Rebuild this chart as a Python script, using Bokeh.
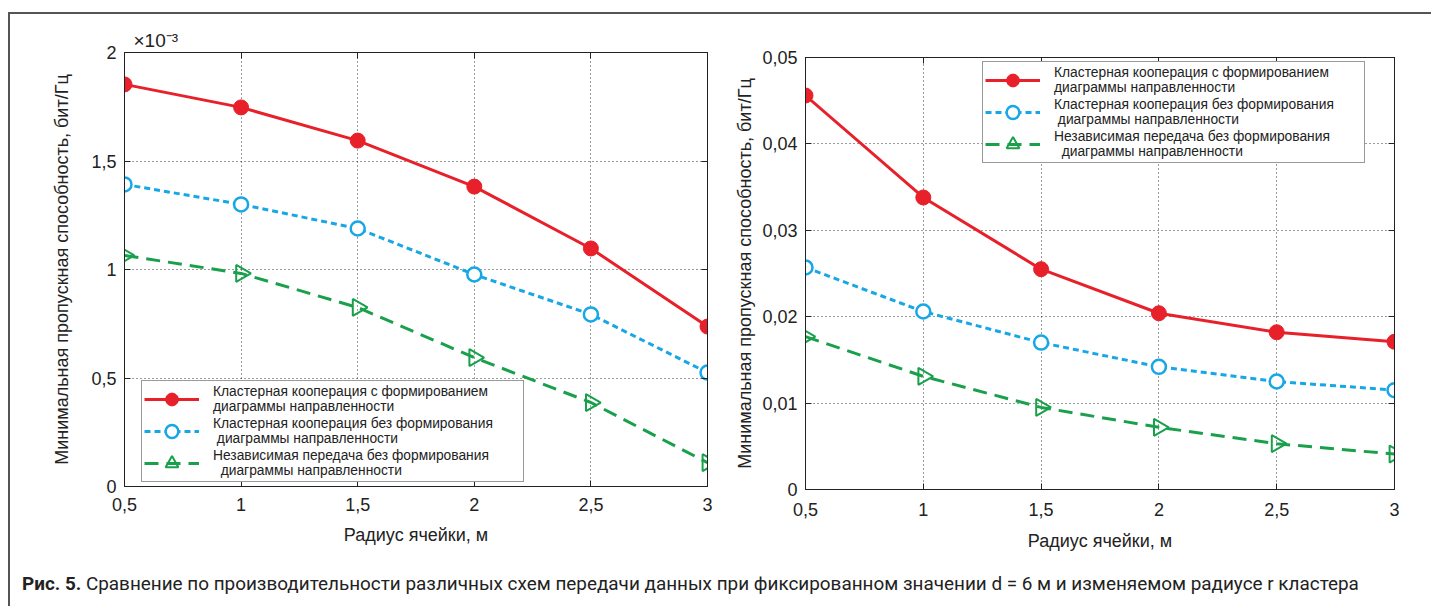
import numpy as np
from bokeh.plotting import figure
from bokeh.models import FixedTicker, LinearAxis, Legend, LegendItem, Div
from bokeh.layouts import row, column
from bokeh.embed import file_html
from bokeh.resources import INLINE

# ---------------- data ----------------
radius = [0.5, 1.0, 1.5, 2.0, 2.5, 3.0]
x_tick_labels = ["0,5", "1", "1,5", "2", "2,5", "3"]

# left panel (values in units of 1e-3)
left_coop_bf = [1.853, 1.747, 1.594, 1.382, 1.097, 0.737]
left_coop_nobf = [1.392, 1.300, 1.189, 0.977, 0.793, 0.525]
left_indep = [1.065, 0.982, 0.825, 0.594, 0.387, 0.110]
left_y_ticks = [0, 0.5, 1, 1.5, 2]
left_y_tick_labels = ["0", "0,5", "1", "1,5", "2"]
left_multiplier = "×10⁻³"

# right panel
right_coop_bf = [0.0456, 0.0338, 0.0255, 0.0204, 0.0182, 0.0171]
right_coop_nobf = [0.0257, 0.0206, 0.0170, 0.0142, 0.0125, 0.0115]
right_indep = [0.0177, 0.0131, 0.0095, 0.0072, 0.0053, 0.0041]
right_y_ticks = [0, 0.01, 0.02, 0.03, 0.04, 0.05]
right_y_tick_labels = ["0", "0,01", "0,02", "0,03", "0,04", "0,05"]

series_names = [
    "Кластерная кооперация с формированием\nдиаграммы направленности",
    "Кластерная кооперация без формирования\n диаграммы направленности",
    "Независимая передача без формирования\n  диаграммы направленности",
]
x_title = "Радиус ячейки, м"
y_title = "Минимальная пропускная способность, бит/Гц"
caption_bold = "Рис. 5."
caption_text = ("Сравнение по производительности различных схем передачи данных "
                "при фиксированном значении d = 6 м и изменяемом радиусе r кластера")

RED = "#e8202a"
BLUE = "#17a7e6"
GREEN = "#19a04b"
FRAME = "#555555"
INK = "#222222"
FONT = "Liberation Sans"
TOP = 14   # height of the top frame strip
H = 550    # figure height
CAP = 606 - TOP - H


def make_panel(width, b_left, b_right, b_top, b_bottom, ymax, yt, ytl, ys,
               legend_loc, xtick_standoff, xlab_standoff, ylab_standoff):
    p = figure(width=width, height=H, output_backend="svg",
               toolbar_location=None, x_range=(0.5, 3.0), y_range=(0, ymax),
               min_border_left=b_left, min_border_right=b_right,
               min_border_top=b_top, min_border_bottom=b_bottom,
               frame_align=False)
    p.outline_line_color = INK
    p.outline_line_width = 1
    p.background_fill_color = "white"
    p.border_fill_color = "white"

    for ax in p.xaxis:
        ax.ticker = FixedTicker(ticks=radius)
        ax.major_label_overrides = {r: l for r, l in zip(radius, x_tick_labels)}
        ax.axis_label = x_title
        ax.axis_label_standoff = xlab_standoff
        ax.major_label_standoff = xtick_standoff
    for ax in p.yaxis:
        ax.ticker = FixedTicker(ticks=yt)
        ax.major_label_overrides = {t: l for t, l in zip(yt, ytl)}
        ax.axis_label = y_title
        ax.axis_label_standoff = ylab_standoff
        ax.major_label_standoff = 8
    for ax in p.xaxis + p.yaxis:
        ax.major_tick_in = 6
        ax.major_tick_out = 0
        ax.minor_tick_line_color = None
        ax.major_label_text_font = FONT
        ax.major_label_text_font_size = "18px"
        ax.major_label_text_color = INK
        ax.axis_label_text_font = FONT
        ax.axis_label_text_font_style = "normal"
        ax.axis_label_text_font_size = "18px"
        ax.axis_label_text_color = INK
        ax.axis_line_color = INK
        ax.major_tick_line_color = INK

    # top & right axes: inward ticks only (boxed axes)
    top = LinearAxis(ticker=FixedTicker(ticks=radius), major_label_text_font_size="0px",
                     major_tick_in=6, major_tick_out=0, minor_tick_line_color=None,
                     axis_line_color=INK, major_tick_line_color=INK,
                     major_label_standoff=0, axis_label_standoff=0)
    rgt = LinearAxis(ticker=FixedTicker(ticks=yt), major_label_text_font_size="0px",
                     major_tick_in=6, major_tick_out=0, minor_tick_line_color=None,
                     axis_line_color=INK, major_tick_line_color=INK,
                     major_label_standoff=0, axis_label_standoff=0)
    top.major_label_overrides = {r: "" for r in radius}
    rgt.major_label_overrides = {t: "" for t in yt}
    p.add_layout(top, "above")
    p.add_layout(rgt, "right")

    p.xgrid.ticker = FixedTicker(ticks=radius)
    p.ygrid.ticker = FixedTicker(ticks=yt)
    for g in (p.xgrid, p.ygrid):
        g.grid_line_color = INK
        g.grid_line_dash = "1 3"
        g.grid_line_width = 1
        g.grid_line_alpha = 0.9

    r1 = p.line(radius, ys[0], line_color=RED, line_width=3)
    m1 = p.scatter(radius, ys[0], marker="circle", size=15, fill_color=RED,
                   line_color=RED)
    r2 = p.line(radius, ys[1], line_color=BLUE, line_width=3, line_dash="6 4")
    m2 = p.scatter(radius, ys[1], marker="circle", size=14, fill_color="white",
                   line_color=BLUE, line_width=2.5)
    r3 = p.line(radius, ys[2], line_color=GREEN, line_width=3, line_dash="14 8")
    m3 = p.scatter(radius, ys[2], marker="triangle", size=17, angle=-np.pi / 2,
                   fill_color="white", fill_alpha=0.0, line_color=GREEN,
                   line_width=2)

    legend = Legend(items=[LegendItem(label=series_names[0], renderers=[r1, m1]),
                           LegendItem(label=series_names[1], renderers=[r2, m2]),
                           LegendItem(label=series_names[2], renderers=[r3, m3])],
                    location=legend_loc)
    legend.label_text_font = FONT
    legend.label_text_font_size = "13.8px"
    legend.label_text_color = INK
    legend.label_text_line_height = 1.15
    legend.glyph_width = 55
    legend.glyph_height = 32
    legend.label_height = 32
    legend.label_width = 308
    legend.label_standoff = 14
    legend.spacing = 0
    legend.padding = 2
    legend.margin = 0
    legend.border_line_color = "#333333"
    legend.border_line_width = 1.2
    legend.background_fill_alpha = 1.0
    p.add_layout(legend, "center")
    return p


frame_bottom_left = 486
frame_bottom_right = 489
p1 = make_panel(705, 114, 8, 52 - TOP, TOP + H - frame_bottom_left, 2.0,
                left_y_ticks, left_y_tick_labels,
                [left_coop_bf, left_coop_nobf, left_indep], (17, 4), 11, 11, 16)
p2 = make_panel(716, 90, 37, 57 - TOP, TOP + H - frame_bottom_right, 0.05,
                right_y_ticks, right_y_tick_labels,
                [right_coop_bf, right_coop_nobf, right_indep], (177, 326), 13, 12, 4)

# exponent of the left panel's y axis, shown above the top-left corner
p1.title.text = left_multiplier
p1.title.align = "left"
p1.title.offset = 9
p1.title.text_font = FONT
p1.title.text_font_size = "19px"
p1.title.text_font_style = "normal"
p1.title.text_color = INK
p1.title.standoff = 4

# outer frame (top and left lines) and caption
top_strip = Div(
    text=(f'<div style="position:absolute;left:8px;top:12px;width:1423px;height:2px;'
          f'background:{FRAME};"></div>'),
    width=1431, height=TOP, margin=0)
left_strip = Div(
    text=(f'<div style="position:absolute;left:8px;top:0px;width:2px;height:{H}px;'
          f'background:{FRAME};"></div>'),
    width=10, height=H, margin=0)
caption = Div(
    text=(f'<div style="position:absolute;left:8px;top:0px;width:2px;height:{CAP}px;'
          f'background:{FRAME};"></div>'
          f'<div style="position:absolute;left:22px;top:{581 - TOP - H - 11}px;'
          f'font-family:Roboto;font-size:18.9px;color:#222;white-space:nowrap;">'
          f'<b>{caption_bold}</b> {caption_text}</div>'),
    width=1431, height=CAP, margin=0)

layout = column(top_strip, row(left_strip, p1, p2, spacing=0), caption, spacing=0)
open("out.html", "w").write(file_html(layout, INLINE))
